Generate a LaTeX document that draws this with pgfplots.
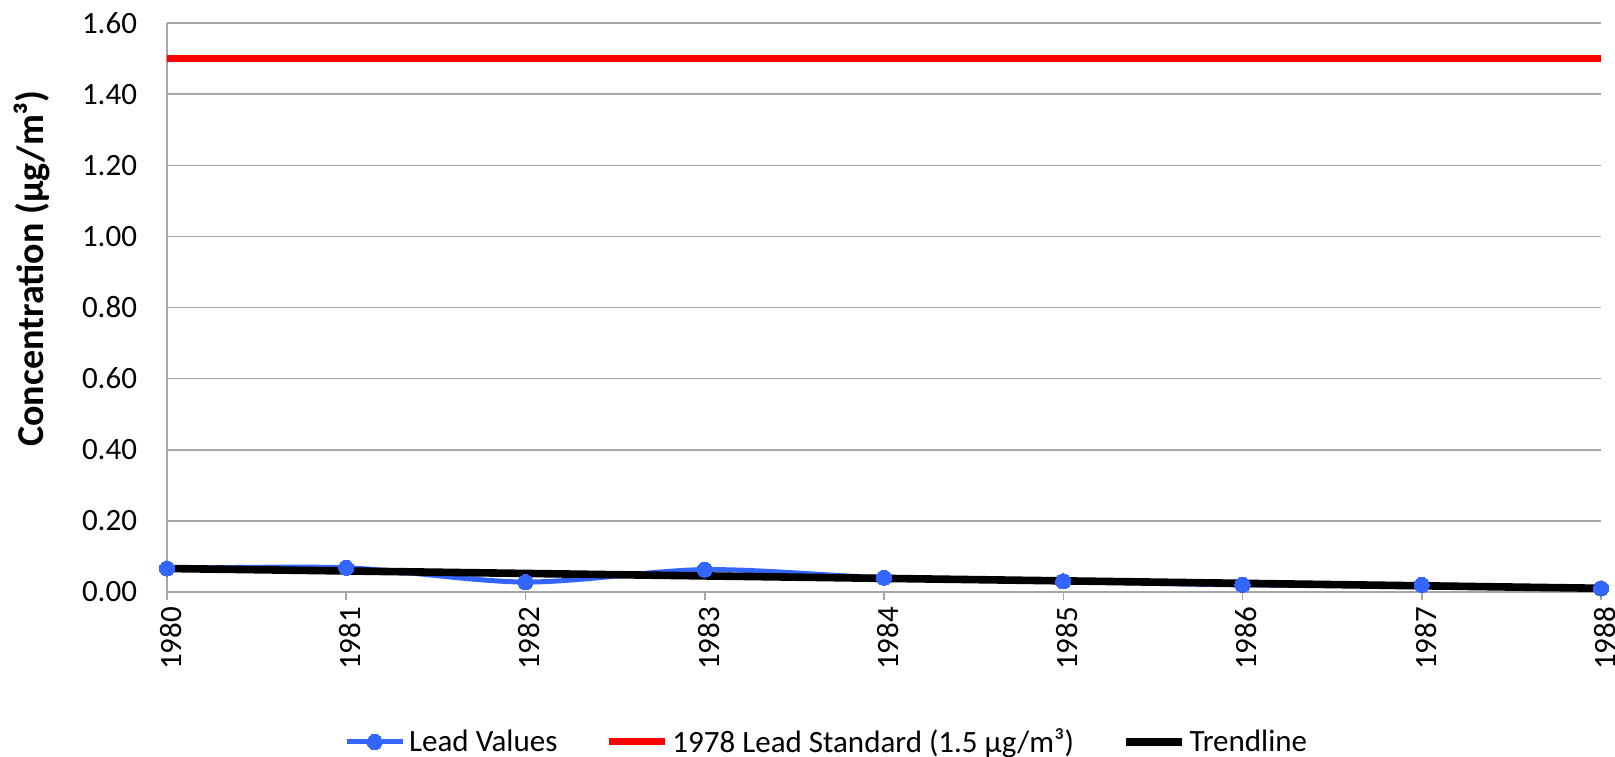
\documentclass[border=0pt]{standalone}
\usepackage{pgfplots}
\pgfplotsset{compat=1.18}
\usepackage{fontspec}
\setmainfont{Carlito}
\definecolor{leadblue}{RGB}{51,102,255}
\definecolor{gridgray}{RGB}{166,166,166}
\newcommand{\chartfont}{\fontsize{15.5}{18}\selectfont}
\begin{document}
\begin{tikzpicture}
\useasboundingbox (-83.5pt,-82pt) rectangle (724pt,296pt);
\begin{axis}[
  at={(0,0)}, anchor=south west,
  scale only axis, width=717pt, height=284.5pt,
  xmin=1980, xmax=1988, ymin=0, ymax=1.6,
  clip=false,
  axis x line=bottom, axis y line=left,
  axis line style={-, draw=gridgray, line width=0.75pt},
  xtick={1980,1981,1982,1983,1984,1985,1986,1987,1988},
  xticklabels={1980,1981,1982,1983,1984,1985,1986,1987,1988},
  xticklabel style={rotate=90, anchor=east, font=\chartfont, yshift=-2pt},
  x tick style={draw=gridgray, line width=0.75pt},
  tick align=outside,
  major tick length=4pt,
  ytick={0,0.2,0.4,0.6,0.8,1.0,1.2,1.4,1.6},
  y tick style={draw=none},
  yticklabel style={font=\chartfont, xshift=-7.5pt,
    /pgf/number format/.cd, fixed, fixed zerofill, precision=2, assume math mode=true},
  ymajorgrids,
  grid style={draw=gridgray, line width=0.75pt},
  ylabel={\bfseries Concentration (µg/m³)},
  ylabel style={at={(axis description cs:-0.094,0.5685)}, anchor=center, font=\fontsize{19}{22}\selectfont},
  legend columns=3,
  legend style={at={(0.46,-0.2636)}, anchor=center, draw=none, font=\chartfont,
    inner sep=0pt, row sep=0pt, nodes={inner sep=1pt},
    /tikz/every odd column/.append style={column sep=1pt},
    /tikz/every even column/.append style={column sep=23pt}},
  legend cell align=left,
  legend image code/.code={\draw[mark repeat=2,mark phase=2,#1] plot coordinates {(0pt,0pt) (14pt,0pt) (28pt,0pt)};},
]
\addplot[leadblue, line width=2.5pt, smooth, tension=0.5, mark=*, mark size=3.8pt, mark options={fill=leadblue, draw=leadblue, line width=0pt}]
  coordinates {(1980,0.066) (1981,0.068) (1982,0.028) (1983,0.063) (1984,0.040) (1985,0.030) (1986,0.020) (1987,0.020) (1988,0.010)};
\addlegendentry{Lead Values}
\addplot[red, line width=3.5pt] coordinates {(1980,1.5) (1988,1.5)};
\addlegendentry{1978 Lead Standard (1.5 µg/m³)}
\addplot[black, line width=3.8pt] coordinates {(1980,0.0661) (1988,0.0105)};
\addlegendentry{Trendline}
\end{axis}
\end{tikzpicture}
\end{document}
